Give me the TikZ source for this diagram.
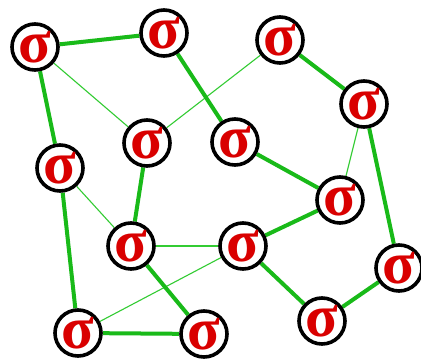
\documentclass[tikz,border=0pt]{standalone}
\usepackage{fontspec}
\usetikzlibrary{backgrounds}
\newfontfamily\sigfont{Liberation Serif}
\begin{document}
\begin{tikzpicture}[x=1pt,y=-1pt,
  sig/.style={circle,draw=black,line width=3.6pt,fill=white,minimum size=46pt,inner sep=0pt,
    text=red!85!black,font=\sigfont\bfseries\fontsize{60}{60}\selectfont},
  strong/.style={draw=green!70!black!90,line width=4pt},
  weak/.style={draw=green!75!black!80,line width=1.1pt}]
\useasboundingbox (0,0) rectangle (421,364);
% sigma nodes
\foreach \n/\x/\y in {a/35/47, b/164/33, c/280/40, d/364/104, e/147/143, f/235/142,
  g/60/168, h/340/200, i/131/246, j/243/246, k/399/268, l/78/333, m/204/334, n/322/321}
  \node[sig] (\n) at (\x,\y) {\raisebox{-1pt}{σ}};
% connecting lines
\begin{scope}[on background layer]
\fill[white] (0,0) rectangle (421,364);
\draw[weak] (a) -- (e);
\draw[weak] (e) -- (c);
\draw[weak] (d) -- (h);
\draw[weak] (g) -- (i);
\draw[weak] (i) -- (j);
\draw[weak] (l) -- (j);
\draw[strong] (a) -- (b);
\draw[strong] (b) -- (f);
\draw[strong] (a) -- (g);
\draw[strong] (g) -- (l);
\draw[strong] (l) -- (m);
\draw[strong] (m) -- (i);
\draw[strong] (i) -- (e);
\draw[strong] (c) -- (d);
\draw[strong] (d) -- (k);
\draw[strong] (k) -- (n);
\draw[strong] (n) -- (j);
\draw[strong] (j) -- (h);
\draw[strong] (h) -- (f);
\end{scope}
\end{tikzpicture}
\end{document}
